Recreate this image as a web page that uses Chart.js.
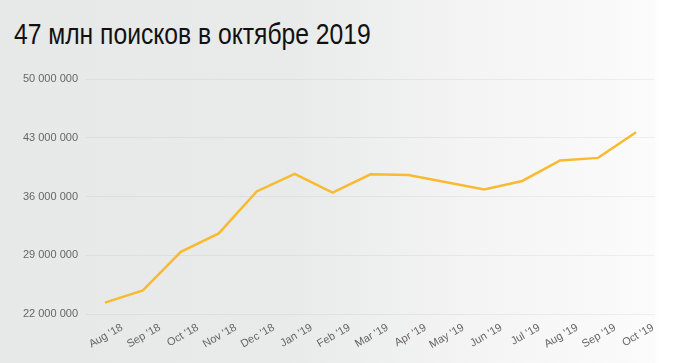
<!DOCTYPE html>
<html>
<head>
<meta charset="utf-8">
<script src="https://cdn.jsdelivr.net/npm/chart.js@4"></script>
<style>
  html, body { margin: 0; padding: 0; }
  body {
    width: 680px; height: 363px; overflow: hidden; position: relative;
    background: linear-gradient(to right, #e7e8e8 0px, #e9eaea 290px, #f4f4f4 470px, #fbfbfb 655px, #ffffff 657px, #ffffff 680px);
  }
  #title {
    position: absolute; left: 14px; top: 19px;
    font-family: "Liberation Sans", Arial, sans-serif;
    font-size: 30px; line-height: 30px; color: #111; white-space: nowrap;
    transform: scaleX(0.822); transform-origin: 0 0;
  }
  #wrap { position: absolute; left: 0; top: 0; width: 680px; height: 363px; }
</style>
</head>
<body>
<div id="title">47 млн поисков в октябре 2019</div>
<div id="wrap"><canvas id="c" width="680" height="363"></canvas></div>
<script>
const months = ["Aug '18", "Sep '18", "Oct '18", "Nov '18", "Dec '18", "Jan '19", "Feb '19", "Mar '19", "Apr '19", "May '19", "Jun '19", "Jul '19", "Aug '19", "Sep '19", "Oct '19"];
const searches = [23350000, 24800000, 29400000, 31600000, 36600000, 38700000, 36450000, 38650000, 38550000, 37700000, 36850000, 37850000, 40300000, 40600000, 43650000];
const yMin = 22000000;
const yMax = 50000000;
const yStep = 7000000;

function fmt(v) {
  return String(v).replace(/\B(?=(\d{3})+(?!\d))/g, ' ');
}

new Chart(document.getElementById('c'), {
  type: 'line',
  data: {
    labels: months,
    datasets: [{
      data: searches,
      borderColor: '#f8bb30',
      borderWidth: 2.5,
      pointRadius: 0,
      pointHoverRadius: 0,
      tension: 0,
      fill: false
    }]
  },
  options: {
    responsive: false,
    animation: false,
    devicePixelRatio: 1,
    layout: { padding: { top: 79, left: 23, right: 25, bottom: 0 } },
    plugins: { legend: { display: false }, tooltip: { enabled: false } },
    scales: {
      x: {
        offset: true,
        grid: { display: false, drawTicks: false },
        border: { display: false },
        afterFit: (s) => { s.paddingLeft = 0; s.paddingRight = 0; s.height = 49; },
        ticks: {
          minRotation: 30, maxRotation: 30,
          autoSkip: false,
          padding: 7,
          labelOffset: 17,
          color: '#666',
          font: { family: "'Liberation Sans', Arial, sans-serif", size: 11 }
        }
      },
      y: {
        min: yMin, max: yMax,
        grid: { color: 'rgba(0,0,0,0.05)', lineWidth: 1, drawTicks: false },
        border: { display: false },
        afterFit: (s) => { s.width = 63; s.paddingTop = 0; s.paddingBottom = 0; },
        ticks: {
          stepSize: yStep,
          padding: 8,
          color: '#666',
          font: { family: "'Liberation Sans', Arial, sans-serif", size: 11 },
          callback: (v) => fmt(v)
        }
      }
    }
  }
});
</script>
</body>
</html>
